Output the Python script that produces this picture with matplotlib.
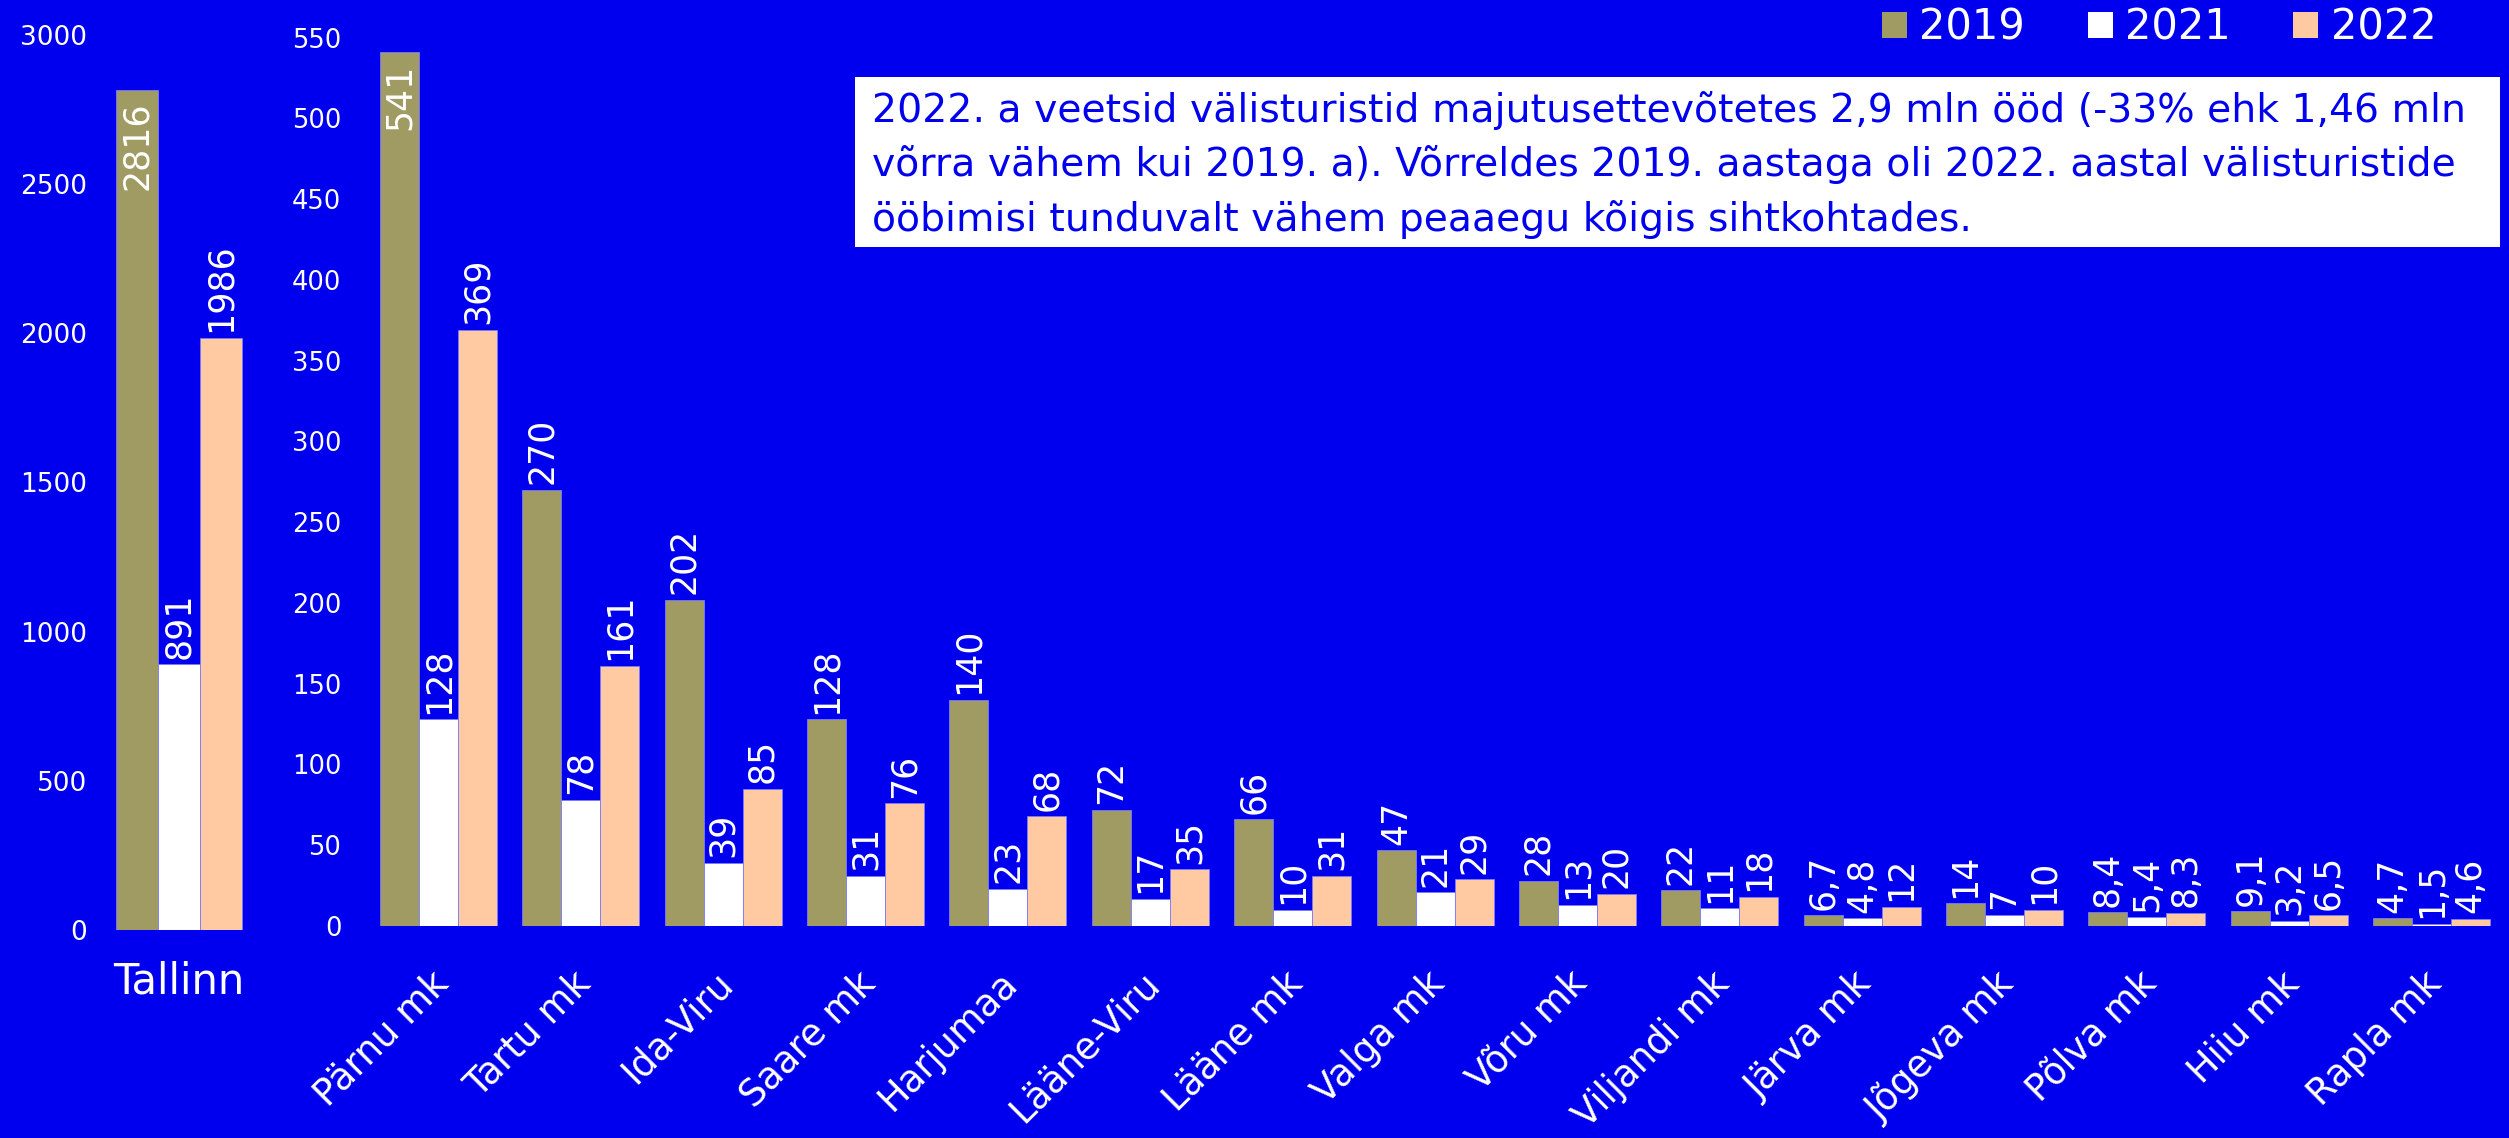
import matplotlib.pyplot as plt
from matplotlib.patches import Patch, Rectangle
import matplotlib.transforms as mtransforms

plt.rcParams['font.family'] = ['DejaVu Sans']

BG = '#0000ee'
C19 = '#a09b62'
C21 = '#ffffff'
C22 = '#ffcaa2'

years = ['2019', '2021', '2022']

tallinn = 'Tallinn'
tallinn_vals = [2816, 891, 1986]

regions = ['Pärnu mk', 'Tartu mk', 'Ida-Viru', 'Saare mk', 'Harjumaa', 'Lääne-Viru',
           'Lääne mk', 'Valga mk', 'Võru mk', 'Viljandi mk', 'Järva mk', 'Jõgeva mk',
           'Põlva mk', 'Hiiu mk', 'Rapla mk']
v2019 = [541, 270, 202, 128, 140, 72, 66, 47, 28, 22, 6.7, 14, 8.4, 9.1, 4.7]
v2021 = [128, 78, 39, 31, 23, 17, 10, 21, 13, 11, 4.8, 7, 5.4, 3.2, 1.5]
v2022 = [369, 161, 85, 76, 68, 35, 31, 29, 20, 18, 12, 10, 8.3, 6.5, 4.6]

note = ("2022. a veetsid välisturistid majutusettevõtetes 2,9 mln ööd (-33% ehk 1,46 mln\n"
        "võrra vähem kui 2019. a). Võrreldes 2019. aastaga oli 2022. aastal välisturistide\n"
        "ööbimisi tunduvalt vähem peaaegu kõigis sihtkohtades.")

W, H = 2509, 1138
fig = plt.figure(figsize=(W / 100, H / 100), dpi=100)
fig.patch.set_facecolor(BG)


def fmt(v):
    s = ('%g' % v)
    return s.replace('.', ',')


def label_bars(ax, bars, vals, ymax):
    for b, v in zip(bars, vals):
        x = b.get_x() + b.get_width() / 2
        if v > 0.9 * ymax:
            ax.annotate(fmt(v), (x, v), xytext=(0, -8), textcoords='offset points',
                        rotation=90, ha='center', va='top', color='white', fontsize=25)
        else:
            ax.annotate(fmt(v), (x, v), xytext=(0, 4), textcoords='offset points',
                        rotation=90, ha='center', va='bottom', color='white', fontsize=25)


def style(ax):
    ax.set_facecolor(BG)
    for s in ax.spines.values():
        s.set_visible(False)
    ax.tick_params(length=0, colors='white')


# Tallinn axis
ax1 = fig.add_axes([100 / W, (H - 930) / H, 160 / W, 895 / H])
style(ax1)
w1 = 0.273
cols = [C19, C21, C22]
for i, v in enumerate(tallinn_vals):
    b = ax1.bar([(i - 1) * w1], [v], width=w1, color=cols[i], edgecolor='#7a7aff', linewidth=0.6)
    label_bars(ax1, b, [v], 3000)
ax1.set_xlim(-0.513, 0.526)
ax1.set_ylim(0, 3000)
ax1.set_yticks(range(0, 3001, 500))
ax1.tick_params(axis='y', labelsize=19, pad=9)
ax1.set_xticks([0])
ax1.set_xticklabels([tallinn], fontsize=30)
ax1.tick_params(axis='x', pad=22)

# Regions axis
ax2 = fig.add_axes([365 / W, (H - 926) / H, 2135 / W, 888.5 / H])
style(ax2)
w2 = 0.274
xs = list(range(len(regions)))
for i, (vals, c) in enumerate(zip([v2019, v2021, v2022], cols)):
    bars = ax2.bar([x + (i - 1) * w2 for x in xs], vals, width=w2, color=c,
                   edgecolor='#7a7aff', linewidth=0.6, label=years[i])
    label_bars(ax2, bars, vals, 550)
ax2.set_xlim(-0.516, 14.48)
ax2.set_ylim(0, 550)
ax2.set_yticks(range(0, 551, 50))
ax2.tick_params(axis='y', labelsize=18.5, pad=17)
ax2.set_xticks(xs)
ax2.set_xticklabels(regions, fontsize=26.5, rotation=45, ha='right', va='center',
                    rotation_mode='anchor')
ax2.tick_params(axis='x', pad=0)
off = mtransforms.ScaledTranslation(4 / 100, -52 / 100, fig.dpi_scale_trans)
for lab in ax2.get_xticklabels():
    lab.set_transform(lab.get_transform() + off)

# note box
fig.patches.append(Rectangle((855 / W, (H - 247) / H), 1645 / W, 170 / H,
                             transform=fig.transFigure, facecolor='white', edgecolor='none'))
fig.text(872 / W, (H - 91) / H, note, color=BG, fontsize=28.4, va='top', ha='left',
         linespacing=1.5)

# legend
handles = [Patch(facecolor=c, edgecolor='none') for c in cols]
fig.legend(handles, years, loc='upper right', bbox_to_anchor=(2474 / W, 1.027), ncol=3,
           frameon=False, fontsize=30, labelcolor='white', handlelength=0.6,
           handleheight=0.6, handletextpad=0.3, columnspacing=1.5)

fig.savefig('out.png', dpi=100, facecolor=BG)
